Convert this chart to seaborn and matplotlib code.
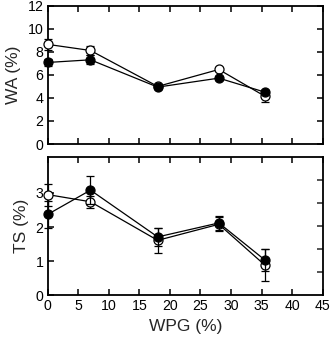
import numpy as np
import pandas as pd
import matplotlib
matplotlib.use("Agg")
import matplotlib.pyplot as plt
import seaborn as sns

wpg = [0, 7, 18, 28, 35.5]
wa_open = [8.65, 8.12, 5.0, 6.47, 4.16]
wa_open_err = [0.5, 0.4, 0.15, 0.15, 0.5]
wa_filled = [7.08, 7.31, 4.94, 5.72, 4.51]
wa_filled_err = [0.3, 0.4, 0.15, 0.15, 0.2]
ts_open = [2.95, 2.74, 1.61, 2.08, 0.89]
ts_open_err = [0.32, 0.18, 0.37, 0.2, 0.46]
ts_filled = [2.37, 3.08, 1.71, 2.12, 1.04]
ts_filled_err = [0.4, 0.4, 0.26, 0.2, 0.32]

sns.set_style("ticks")
plt.rcParams['font.family'] = ['Liberation Sans', 'DejaVu Sans']

fig = plt.figure(figsize=(3.32, 3.41), dpi=100)
ax1 = fig.add_axes([0.1437, 0.5777, 0.8283, 0.4053])
ax2 = fig.add_axes([0.1437, 0.134, 0.8283, 0.4065])

def draw(ax, y_open, e_open, y_fill, e_fill):
    df = pd.DataFrame({"x": wpg + wpg,
                       "y": list(y_open) + list(y_fill),
                       "s": ["open"] * len(wpg) + ["filled"] * len(wpg)})
    for name, face, y, e, z in [("open", "white", y_open, e_open, 3),
                                ("filled", "black", y_fill, e_fill, 5)]:
        eb = ax.errorbar(wpg, y, yerr=e, fmt="none", ecolor="black", elinewidth=0.9,
                         capsize=3, capthick=0.9, zorder=z - 1)
        for art in eb.lines[1] + eb.lines[2]:
            art.set_clip_on(False)
        sub = df[df.s == name]
        sns.lineplot(data=sub, x="x", y="y", ax=ax, color="black", linewidth=0.9,
                     marker="o", markersize=6.5, markerfacecolor=face,
                     markeredgecolor="black", markeredgewidth=0.9, zorder=z,
                     legend=False, errorbar=None, clip_on=False)
    ax.set_xlim(0, 45)
    ax.set_xticks(range(0, 46, 5))
    for sp in ax.spines.values():
        sp.set_linewidth(1.3)
        sp.set_color("black")
        sp.set_zorder(2)
    ax.tick_params(direction="in", length=4, width=1.1, top=True, right=True,
                   labelsize=10.2, colors="black", pad=3)
    ax.set_xlabel("")

draw(ax1, wa_open, wa_open_err, wa_filled, wa_filled_err)
ax1.set_ylim(0, 12)
ax1.set_yticks(range(0, 13, 2))
ax1.tick_params(labelbottom=False)
ax1.set_ylabel("WA (%)", fontsize=12.5, labelpad=5)

draw(ax2, ts_open, ts_open_err, ts_filled, ts_filled_err)
ax2.set_ylim(0, 4.06)
ax2.set_yticks([0, 1, 2, 3])
ax2.tick_params(right=False)
ax2.set_ylabel("TS (%)", fontsize=12.5, labelpad=5)
ax2.set_xlabel("WPG (%)", fontsize=12.5, labelpad=4)
tw = ax2.twinx()
tw.set_ylim(0, 6)
tw.set_yticks([1, 2, 3, 4, 5])
tw.tick_params(direction="in", length=4, width=1.1, labelright=False)
tw.set_zorder(0)
for sp in tw.spines.values():
    sp.set_visible(False)
ax2.set_zorder(1)
ax2.patch.set_visible(False)

fig.savefig("out.png", dpi=100)
